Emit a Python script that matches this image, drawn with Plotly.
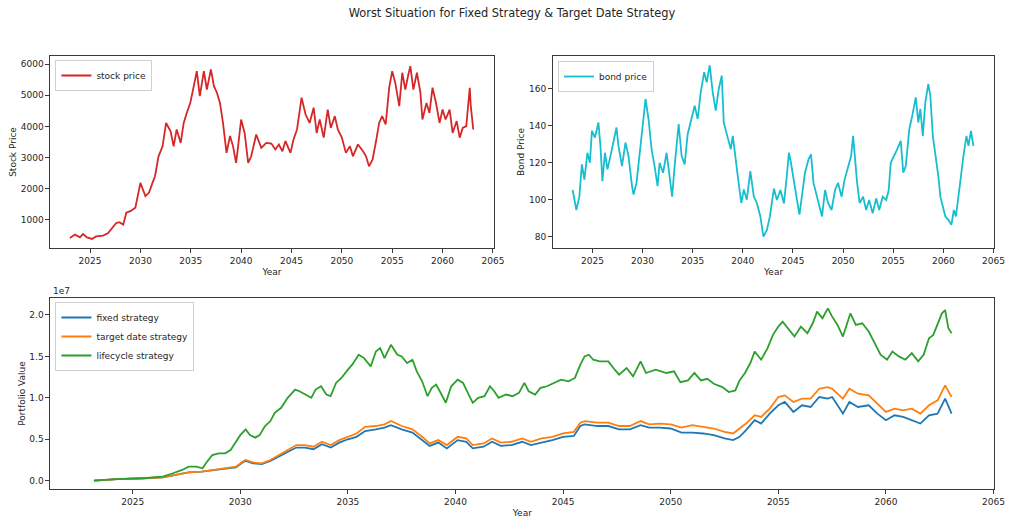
import plotly.graph_objects as go

# ---------------- data ----------------
stock_years = [2023.0, 2023.5, 2024.0, 2024.3, 2024.7, 2025.2, 2025.6, 2026.3, 2026.8, 2027.2,
               2027.6, 2027.9, 2028.3, 2028.6, 2029.0, 2029.5, 2030.0, 2030.5, 2030.85, 2031.2,
               2031.45, 2031.8, 2032.2, 2032.55, 2033.0, 2033.3, 2033.6, 2034.0, 2034.3, 2034.6,
               2034.95, 2035.3, 2035.6, 2035.9, 2036.3, 2036.6, 2037.0, 2037.3, 2037.6, 2037.9,
               2038.2, 2038.55, 2038.9, 2039.2, 2039.5, 2039.7, 2040.0, 2040.35, 2040.7, 2041.0,
               2041.5, 2042.0, 2042.5, 2043.0, 2043.4, 2043.75, 2044.1, 2044.4, 2044.9, 2045.2,
               2045.55, 2046.0, 2046.4, 2046.8, 2047.2, 2047.5, 2047.8, 2048.2, 2048.6, 2048.9,
               2049.3, 2049.6, 2050.0, 2050.4, 2050.8, 2051.1, 2051.6, 2052.1, 2052.4, 2052.7,
               2053.05, 2053.4, 2053.7, 2054.0, 2054.35, 2054.7, 2055.0, 2055.3, 2055.7, 2056.0,
               2056.3, 2056.6, 2056.8, 2057.1, 2057.45, 2057.8, 2058.0, 2058.4, 2058.7, 2059.0,
               2059.35, 2059.7, 2060.0, 2060.3, 2060.7, 2061.0, 2061.4, 2061.7, 2062.0, 2062.35,
               2062.7, 2062.8, 2063.05]
stock_price = [420, 530, 440, 550, 440, 390, 470, 500, 580, 740,
               900, 930, 850, 1230, 1280, 1390, 2190, 1760, 1870, 2190,
               2400, 3040, 3360, 4110, 3840, 3360, 3900, 3470, 4110, 4430,
               4750, 5290, 5770, 4970, 5770, 5180, 5830, 5290, 5080, 4750,
               4110, 3150, 3690, 3360, 2830, 3360, 4220, 3790, 2830, 3040,
               3740, 3310, 3470, 3450, 3260, 3420, 3200, 3530, 3150, 3580,
               3900, 4920, 4380, 4110, 4600, 3790, 4220, 3640, 4540, 3950,
               4330, 3900, 3640, 3150, 3360, 3040, 3420, 3200, 3040, 2720,
               2940, 3530, 4110, 4330, 4060, 5240, 5770, 5400, 4650, 5720,
               5180, 5660, 5930, 5180, 5720, 5080, 4220, 4750, 4430, 5240,
               4750, 4110, 4540, 4220, 4540, 3790, 4170, 3640, 3950, 4010,
               5240, 4650, 3900]

bond_years = [2023.03, 2023.2, 2023.4, 2023.7, 2023.95, 2024.2, 2024.5, 2024.75, 2024.95, 2025.25,
              2025.6, 2025.8, 2026.0, 2026.25, 2026.5, 2026.8, 2027.1, 2027.4, 2027.6, 2027.95,
              2028.3, 2028.6, 2028.95, 2029.1, 2029.4, 2029.75, 2030.1, 2030.3, 2030.6, 2030.9,
              2031.2, 2031.5, 2031.7, 2032.05, 2032.4, 2032.7, 2032.95, 2033.2, 2033.6, 2033.9,
              2034.2, 2034.5, 2034.85, 2035.2, 2035.5, 2035.8, 2036.15, 2036.4, 2036.7, 2037.0,
              2037.3, 2037.6, 2037.9, 2038.1, 2038.45, 2038.8, 2039.0, 2039.3, 2039.6, 2039.85,
              2040.1, 2040.4, 2040.75, 2041.1, 2041.4, 2041.75, 2042.05, 2042.4, 2042.7, 2043.1,
              2043.4, 2043.75, 2044.1, 2044.35, 2044.6, 2044.8, 2045.1, 2045.45, 2045.65, 2045.9,
              2046.2, 2046.55, 2046.8, 2047.05, 2047.4, 2047.7, 2047.9, 2048.2, 2048.5, 2048.85,
              2049.2, 2049.5, 2049.85, 2050.15, 2050.5, 2050.8, 2051.0, 2051.15, 2051.4, 2051.65,
              2052.0, 2052.3, 2052.6, 2052.95, 2053.3, 2053.6, 2053.95, 2054.3, 2054.55, 2054.75,
              2055.1, 2055.4, 2055.75, 2056.0, 2056.25, 2056.6, 2056.9, 2057.25, 2057.5, 2057.7,
              2057.95, 2058.2, 2058.5, 2058.7, 2058.95, 2059.2, 2059.5, 2059.7, 2059.95, 2060.2,
              2060.5, 2060.8, 2061.05, 2061.25, 2061.5, 2061.8, 2062.0, 2062.3, 2062.5, 2062.75,
              2063.0]
bond_price = [105.2, 99.8, 94.4, 101.6, 119.0, 110.8, 125.3, 119.9, 137.1, 133.5,
              141.6, 129.0, 110.0, 125.3, 116.3, 123.5, 130.7, 138.9, 129.0, 118.1,
              130.7, 123.5, 107.3, 102.7, 109.0, 127.2, 147.1, 154.3, 143.5, 127.2,
              118.1, 107.3, 119.9, 114.5, 125.3, 112.6, 101.6, 118.1, 140.8, 123.5,
              119.0, 135.3, 142.6, 150.7, 143.5, 157.9, 168.8, 163.3, 172.4, 157.9,
              148.0, 159.7, 166.9, 141.6, 134.4, 127.2, 134.4, 119.9, 108.2, 98.2,
              105.5, 100.0, 115.4, 101.6, 98.2, 90.9, 80.0, 83.7, 90.9, 106.0,
              99.8, 105.2, 98.0, 110.8, 125.3, 119.9, 109.0, 98.2, 91.9, 103.6,
              114.5, 121.7, 124.4, 109.0, 101.6, 94.4, 90.9, 105.2, 98.2, 94.4,
              105.2, 109.0, 101.6, 110.8, 118.1, 123.5, 134.4, 123.5, 109.0, 98.2,
              101.6, 94.4, 99.8, 92.6, 100.7, 94.4, 101.6, 99.8, 105.2, 119.9,
              123.5, 127.2, 131.7, 114.5, 118.1, 138.0, 145.3, 155.2, 141.6, 148.9,
              134.4, 152.5, 162.4, 156.1, 134.4, 125.3, 112.6, 101.6, 95.3, 90.9,
              89.1, 86.4, 94.4, 90.9, 101.6, 116.3, 123.5, 134.4, 129.0, 137.1,
              129.0]

# portfolio values in units of 1e7
ob_years = [2023.2, 2024.3, 2025.5, 2026.4, 2027.0, 2027.6, 2028.2, 2028.7, 2029.3, 2029.8,
            2030.1, 2030.25, 2030.6, 2031.0, 2031.4, 2031.8, 2032.2, 2032.6, 2033.0, 2033.4,
            2033.8, 2034.2, 2034.6, 2035.0, 2035.4, 2035.8, 2036.3, 2036.7, 2037.0, 2037.5,
            2038.0, 2038.45, 2038.8, 2039.2, 2039.6, 2040.1, 2040.5, 2040.8, 2041.3, 2041.7,
            2042.1, 2042.6, 2043.1, 2043.5, 2044.0, 2044.5, 2045.0, 2045.5, 2045.8, 2046.0,
            2046.6, 2047.1, 2047.6, 2048.1, 2048.6, 2049.0, 2049.5, 2050.0, 2050.5, 2051.0,
            2051.5, 2052.0, 2052.5, 2052.9, 2053.2, 2053.5, 2053.9, 2054.2, 2054.6, 2055.0,
            2055.3, 2055.7, 2056.1, 2056.5, 2056.9, 2057.3, 2057.5, 2058.0, 2058.3, 2058.7,
            2059.2, 2059.6, 2060.0, 2060.4, 2060.8, 2061.2, 2061.6, 2062.0, 2062.4, 2062.75,
            2063.05]
target_date_1e7 = [0.0, 0.02, 0.03, 0.04, 0.07, 0.10, 0.11, 0.13, 0.145, 0.17,
                   0.23, 0.25, 0.22, 0.21, 0.25, 0.31, 0.37, 0.43, 0.43, 0.41,
                   0.47, 0.43, 0.49, 0.53, 0.57, 0.65, 0.66, 0.68, 0.72, 0.66,
                   0.62, 0.53, 0.45, 0.49, 0.43, 0.53, 0.51, 0.43, 0.45, 0.51,
                   0.46, 0.47, 0.51, 0.47, 0.51, 0.53, 0.57, 0.59, 0.70, 0.72,
                   0.70, 0.70, 0.66, 0.66, 0.72, 0.68, 0.69, 0.68, 0.64, 0.67,
                   0.65, 0.63, 0.59, 0.57, 0.63, 0.69, 0.79, 0.77, 0.87, 1.01,
                   1.03, 0.95, 0.99, 0.99, 1.11, 1.13, 1.11, 0.99, 1.11, 1.05,
                   1.03, 0.93, 0.83, 0.87, 0.85, 0.87, 0.81, 0.91, 0.97, 1.15,
                   1.01]
fixed_1e7 = [0.0, 0.02, 0.03, 0.04, 0.07, 0.10, 0.11, 0.125, 0.14, 0.16,
             0.22, 0.24, 0.21, 0.20, 0.24, 0.29, 0.35, 0.40, 0.40, 0.38,
             0.44, 0.40, 0.46, 0.50, 0.53, 0.60, 0.62, 0.64, 0.67, 0.62,
             0.58, 0.49, 0.42, 0.46, 0.39, 0.49, 0.47, 0.39, 0.41, 0.47,
             0.42, 0.43, 0.47, 0.43, 0.46, 0.49, 0.53, 0.54, 0.66, 0.68,
             0.66, 0.66, 0.62, 0.62, 0.67, 0.64, 0.64, 0.63, 0.58, 0.58,
             0.57, 0.55, 0.51, 0.49, 0.53, 0.61, 0.73, 0.69, 0.81, 0.91,
             0.95, 0.83, 0.91, 0.89, 1.01, 0.99, 1.01, 0.81, 0.95, 0.89,
             0.91, 0.81, 0.73, 0.79, 0.77, 0.73, 0.69, 0.79, 0.81, 0.99,
             0.81]

life_years = [2023.2, 2024.26, 2025.5, 2026.4, 2026.87, 2027.3, 2027.6, 2027.95, 2028.25, 2028.4,
              2028.7, 2029.0, 2029.3, 2029.55, 2029.8, 2030.0, 2030.25, 2030.45, 2030.7, 2030.9,
              2031.15, 2031.4, 2031.6, 2031.9, 2032.2, 2032.55, 2032.75, 2033.05, 2033.3, 2033.5,
              2033.75, 2034.0, 2034.2, 2034.45, 2034.7, 2035.0, 2035.2, 2035.5, 2035.75, 2036.06,
              2036.3, 2036.5, 2036.7, 2037.0, 2037.3, 2037.5, 2037.75, 2038.0, 2038.2, 2038.45,
              2038.7, 2038.9, 2039.1, 2039.35, 2039.55, 2039.8, 2040.1, 2040.35, 2040.6, 2040.8,
              2041.05, 2041.35, 2041.6, 2041.8, 2042.0, 2042.35, 2042.65, 2042.95, 2043.2, 2043.4,
              2043.7, 2043.95, 2044.25, 2044.55, 2044.9, 2045.25, 2045.55, 2045.8, 2046.0, 2046.2,
              2046.4, 2046.7, 2047.1, 2047.4, 2047.6, 2047.95, 2048.25, 2048.6, 2048.85, 2049.3,
              2049.8, 2050.15, 2050.45, 2050.8, 2051.1, 2051.4, 2051.7, 2052.0, 2052.4, 2052.7,
              2053.0, 2053.2, 2053.45, 2053.7, 2053.9, 2054.2, 2054.5, 2054.75, 2055.0, 2055.2,
              2055.45, 2055.75, 2056.05, 2056.35, 2056.6, 2056.8, 2057.05, 2057.3, 2057.5, 2057.75,
              2058.0, 2058.2, 2058.35, 2058.6, 2058.9, 2059.2, 2059.5, 2059.75, 2060.05, 2060.3,
              2060.6, 2060.9, 2061.2, 2061.5, 2061.75, 2062.0, 2062.2, 2062.4, 2062.6, 2062.75,
              2062.9, 2063.05]
lifecycle_1e7 = [0.0, 0.02, 0.03, 0.05, 0.09, 0.13, 0.17, 0.17, 0.15, 0.21,
                 0.31, 0.33, 0.33, 0.37, 0.47, 0.55, 0.62, 0.55, 0.52, 0.55,
                 0.66, 0.72, 0.82, 0.88, 1.00, 1.10, 1.08, 1.04, 1.00, 1.10,
                 1.14, 1.04, 1.02, 1.18, 1.24, 1.34, 1.40, 1.52, 1.48, 1.38,
                 1.56, 1.60, 1.48, 1.64, 1.52, 1.50, 1.42, 1.46, 1.32, 1.20,
                 1.02, 1.12, 1.16, 1.04, 0.94, 1.14, 1.22, 1.18, 1.04, 0.94,
                 1.00, 1.02, 1.14, 1.08, 1.00, 1.04, 1.02, 1.06, 1.18, 1.08,
                 1.04, 1.12, 1.14, 1.18, 1.22, 1.20, 1.24, 1.40, 1.50, 1.52,
                 1.46, 1.44, 1.44, 1.34, 1.28, 1.36, 1.26, 1.44, 1.30, 1.34,
                 1.30, 1.32, 1.19, 1.21, 1.30, 1.21, 1.23, 1.17, 1.13, 1.07,
                 1.09, 1.21, 1.30, 1.42, 1.56, 1.46, 1.60, 1.76, 1.86, 1.92,
                 1.84, 1.74, 1.86, 1.78, 1.90, 2.04, 1.96, 2.08, 1.98, 1.88,
                 1.74, 1.90, 2.02, 1.88, 1.90, 1.80, 1.64, 1.52, 1.46, 1.56,
                 1.50, 1.46, 1.54, 1.44, 1.52, 1.72, 1.76, 1.88, 2.02, 2.06,
                 1.84, 1.78]

year_ticks = [2025, 2030, 2035, 2040, 2045, 2050, 2055, 2060, 2065]
stock_ticks = [1000, 2000, 3000, 4000, 5000, 6000]
bond_ticks = [80, 100, 120, 140, 160]
value_ticks = [0.0, 0.5, 1.0, 1.5, 2.0]
value_tick_text = ["0.0", "0.5", "1.0", "1.5", "2.0"]

assert len(stock_years) == len(stock_price)
assert len(bond_years) == len(bond_price)
assert len(ob_years) == len(target_date_1e7) == len(fixed_1e7)
assert len(life_years) == len(lifecycle_1e7)

# ---------------- figure ----------------
W, H = 1024, 526
FONT = "DejaVu Sans, Liberation Sans, sans-serif"
TXT = "#262626"
LW = 1.8
FS = 9


def px_x(a, b):
    return [a / W, b / W]


def px_y(top, bottom):
    return [1 - bottom / H, 1 - top / H]


fig = go.Figure()
fig.add_trace(go.Scatter(x=stock_years, y=stock_price, mode="lines", name="stock price",
                         line=dict(color="#d62728", width=LW), xaxis="x", yaxis="y", legend="legend"))
fig.add_trace(go.Scatter(x=bond_years, y=bond_price, mode="lines", name="bond price",
                         line=dict(color="#17becf", width=LW), xaxis="x2", yaxis="y2", legend="legend2"))
fig.add_trace(go.Scatter(x=ob_years, y=fixed_1e7, mode="lines", name="fixed strategy",
                         line=dict(color="#1f77b4", width=LW), xaxis="x3", yaxis="y3", legend="legend3"))
fig.add_trace(go.Scatter(x=ob_years, y=target_date_1e7, mode="lines", name="target date strategy",
                         line=dict(color="#ff7f0e", width=LW), xaxis="x3", yaxis="y3", legend="legend3"))
fig.add_trace(go.Scatter(x=life_years, y=lifecycle_1e7, mode="lines", name="lifecycle strategy",
                         line=dict(color="#2ca02c", width=LW), xaxis="x3", yaxis="y3", legend="legend3"))

axis_common = dict(showline=True, linecolor="#3a3a3a", linewidth=1, mirror=True,
                   ticks="outside", ticklen=4, tickwidth=1, tickcolor="#3a3a3a",
                   showgrid=False, zeroline=False,
                   tickfont=dict(family=FONT, size=FS, color=TXT))
title_font = dict(family=FONT, size=FS, color=TXT)

legend_common = dict(bgcolor="rgba(255,255,255,0.85)", bordercolor="#d0d0d0", borderwidth=1,
                     font=dict(family=FONT, size=FS, color=TXT), xanchor="left", yanchor="top",
                     itemwidth=30, tracegroupgap=0)

fig.update_layout(
    width=W, height=H, autosize=False,
    margin=dict(l=0, r=0, t=0, b=0),
    paper_bgcolor="white", plot_bgcolor="white",
    showlegend=True,
    title=dict(text="Worst Situation for Fixed Strategy & Target Date Strategy",
               x=0.5, xanchor="center", y=1 - 13 / H, yanchor="middle",
               font=dict(family=FONT, size=11.4, color=TXT)),
    xaxis=dict(axis_common, domain=px_x(51, 499), anchor="y", range=[2021.07, 2065.07],
               tickvals=year_ticks, title=dict(text="Year", font=title_font, standoff=3)),
    yaxis=dict(axis_common, domain=px_y(56, 248), anchor="x", range=[100, 6257],
               tickvals=stock_ticks, title=dict(text="Stock Price", font=title_font, standoff=2)),
    xaxis2=dict(axis_common, domain=px_x(559, 1005), anchor="y2", range=[2021.07, 2065.07],
                tickvals=year_ticks, title=dict(text="Year", font=title_font, standoff=3)),
    yaxis2=dict(axis_common, domain=px_y(56, 248), anchor="x2", range=[73.9, 177.5],
                tickvals=bond_ticks, title=dict(text="Bond Price", font=title_font, standoff=2)),
    xaxis3=dict(axis_common, domain=px_x(51, 1005), anchor="y3", range=[2021.18, 2065.03],
                tickvals=year_ticks, title=dict(text="Year", font=title_font, standoff=3)),
    yaxis3=dict(axis_common, domain=px_y(298, 489), anchor="x3", range=[-0.1, 2.205],
                tickvals=value_ticks, ticktext=value_tick_text,
                title=dict(text="Portfolio Value", font=title_font, standoff=2)),
    legend=dict(legend_common, x=56 / W, y=1 - 60 / H),
    legend2=dict(legend_common, x=564 / W, y=1 - 61 / H),
    legend3=dict(legend_common, x=56 / W, y=1 - 302 / H),
    annotations=[dict(text="1e7", x=52 / W, y=1 - 291 / H, xref="paper", yref="paper",
                      xanchor="left", yanchor="middle", showarrow=False,
                      font=dict(family=FONT, size=FS, color=TXT))],
)

fig.write_html("out.html", config={"displayModeBar": False},
               post_script="document.body.style.margin='0';document.body.style.overflow='hidden';")
